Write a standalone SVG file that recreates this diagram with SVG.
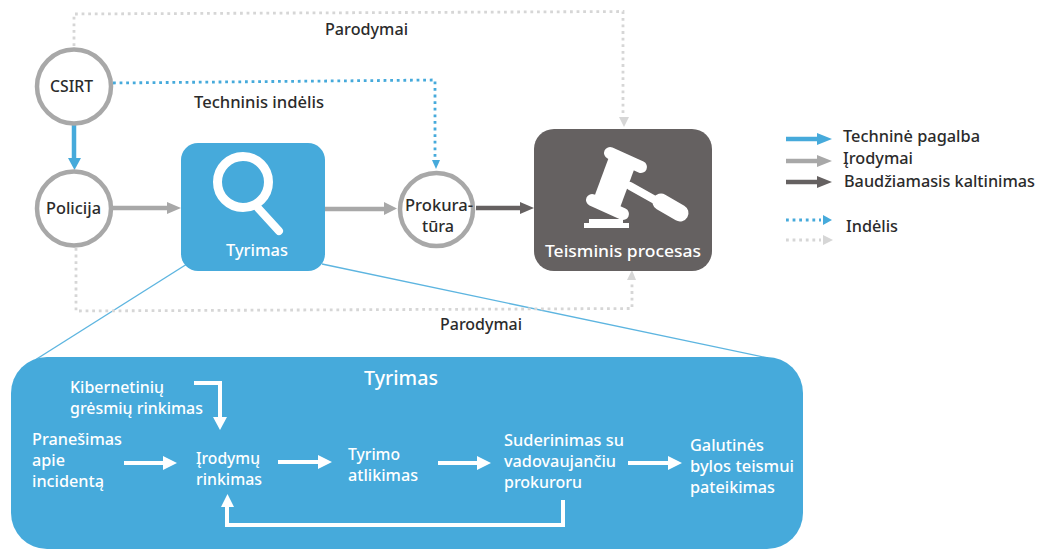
<svg xmlns="http://www.w3.org/2000/svg" width="1045" height="549" viewBox="0 0 1045 549">
<style>
text{font-family:"Noto Sans","Liberation Sans",sans-serif;font-size:16.5px;fill:#2b2b2b;font-weight:500}
.w text,text.w{fill:#fff}
.c{fill:#fff;stroke:#a8a8a8;stroke-width:4.5}
.l{fill:none}
.blue{stroke:#46aadb;stroke-width:4.5}
.gray{stroke:#a8a8a8;stroke-width:4.5}
.dark{stroke:#656161;stroke-width:4.5}
.white{stroke:#fff;stroke-width:4}
.dblue{stroke:#46aadb;stroke-width:2.8;stroke-dasharray:2.8 3.8}
.dgray{stroke:#d6d6d6;stroke-width:2.8;stroke-dasharray:2.8 3.8}
.thin{stroke:#5db5e0;stroke-width:1.4}
.hb{fill:#46aadb}.hg{fill:#a8a8a8}.hd{fill:#656161}.hw{fill:#fff}.hl{fill:#d6d6d6}
</style>
<g id="connectors">
<g class="l">
<path class="thin" d="M187 264L35 360"/>
<path class="thin" d="M322 264L768 358"/>
<path class="dgray" d="M74 46V14L623 11.500V118"/>
<path class="dblue" d="M113 83L435 80V160"/>
<path class="dgray" d="M76 248V311L632 308.500V281"/>
<path class="blue" d="M74 125V158"/>
<path class="gray" d="M113 208H168"/>
<path class="gray" d="M325 209H385"/>
<path class="dark" d="M476 208H521"/>
<path class="blue" d="M786 139H818"/>
<path class="gray" d="M786 161H818"/>
<path class="dark" d="M786 182H818"/>
<path class="dblue" d="M786 220H821"/>
<path class="dgray" d="M786 240H821"/>
</g>
<polygon class="hb" points="68,158 81,158 74.500,170"/>
<polygon class="hg" points="167,202 181,208 167,214"/>
<polygon class="hg" points="384,202 397,208.500 384,215"/>
<polygon class="hd" points="520,202 534,208 520,214"/>
<polygon class="hb" points="432,160 440,160 436,169"/>
<polygon class="hl" points="619,117 629,117 624,127"/>
<polygon class="hl" points="627,280 636,280 632,270"/>
<polygon class="hb" points="817,133 832,139 817,145"/>
<polygon class="hg" points="817,155 832,161 817,167"/>
<polygon class="hd" points="817,176 832,182 817,188"/>
<polygon class="hb" points="823,215 832,220 823,225"/>
<polygon class="hl" points="823,235 833,240 823,245"/>
</g>
<g id="tyrimas-detail">
<rect x="11" y="357" width="792" height="192" rx="36" fill="#46aadb"/>
<text class="w" x="364" y="385" style="font-size:19px" textLength="74" lengthAdjust="spacingAndGlyphs">Tyrimas</text>
</g>
<g id="detail-connectors">
<g class="l white">
<path d="M194 383H220V418"/>
<path d="M124 463H164"/>
<path d="M278 462H319"/>
<path d="M438 463H478"/>
<path d="M628 463H669"/>
<path d="M563 500V525H227V506"/>
</g>
<polygon class="hw" points="213,417 227,417 220,430"/>
<polygon class="hw" points="163,456 177,463 163,470"/>
<polygon class="hw" points="318,455 332,462 318,469"/>
<polygon class="hw" points="477,456 491,463 477,470"/>
<polygon class="hw" points="668,456 682,463 668,470"/>
<polygon class="hw" points="221,507 234,507 227.500,494"/>
</g>
<g id="csirt"><circle class="c" cx="74" cy="86.500" r="37"/><text x="50" y="92" textLength="43" lengthAdjust="spacingAndGlyphs">CSIRT</text></g>
<g id="policija"><circle class="c" cx="74" cy="208.500" r="37"/><text x="46" y="214" textLength="55" lengthAdjust="spacingAndGlyphs">Policija</text></g>
<g id="prokuratura"><circle class="c" cx="436.500" cy="209.500" r="36.500"/><text x="405" y="211" textLength="68" lengthAdjust="spacingAndGlyphs">Prokura-</text><text x="422" y="232" textLength="32" lengthAdjust="spacingAndGlyphs">tūra</text></g>
<g id="tyrimas">
<rect x="181" y="143" width="144" height="128" rx="17" fill="#46aadb"/>
<circle cx="243" cy="182" r="25.500" fill="none" stroke="#fff" stroke-width="9"/>
<path d="M258 208L279 231" fill="none" stroke="#fff" stroke-width="8" stroke-linecap="round"/>
<text class="w" x="226" y="256" textLength="62" lengthAdjust="spacingAndGlyphs">Tyrimas</text>
</g>
<g id="teisminis-procesas">
<rect x="534" y="129" width="178" height="142" rx="20" fill="#656161"/>
<g fill="none" stroke="#fff" stroke-linecap="round">
<path d="M610 153L641 167" stroke-width="12"/>
<path d="M622 162L605 208" stroke-width="28" stroke-linecap="butt"/>
<path d="M592 200L623 214" stroke-width="12"/>
<path d="M630 186L655 200" stroke-width="8"/>
<path d="M661 202L680 213" stroke-width="17"/>
</g>
<rect x="584" y="223" width="45" height="5" fill="#fff"/>
<rect x="589" y="219" width="34" height="5" fill="#fff"/>
<text class="w" x="545" y="257" textLength="156" lengthAdjust="spacingAndGlyphs">Teisminis procesas</text>
</g>
<g id="kibernetiniu" class="w"><text x="70" y="393" textLength="94" lengthAdjust="spacingAndGlyphs">Kibernetinių</text><text x="70" y="414" textLength="133" lengthAdjust="spacingAndGlyphs">grėsmių rinkimas</text></g>
<g id="pranesimas" class="w"><text x="32" y="445" textLength="90" lengthAdjust="spacingAndGlyphs">Pranešimas</text><text x="32" y="466" textLength="33" lengthAdjust="spacingAndGlyphs">apie</text><text x="32" y="487" textLength="72" lengthAdjust="spacingAndGlyphs">incidentą</text></g>
<g id="irodymu" class="w"><text x="196" y="464" textLength="64" lengthAdjust="spacingAndGlyphs">Įrodymų</text><text x="196" y="485" textLength="66" lengthAdjust="spacingAndGlyphs">rinkimas</text></g>
<g id="tyrimo" class="w"><text x="348" y="460" textLength="52" lengthAdjust="spacingAndGlyphs">Tyrimo</text><text x="348" y="481" textLength="70" lengthAdjust="spacingAndGlyphs">atlikimas</text></g>
<g id="suderinimas" class="w"><text x="504" y="446" textLength="120" lengthAdjust="spacingAndGlyphs">Suderinimas su</text><text x="504" y="467" textLength="112" lengthAdjust="spacingAndGlyphs">vadovaujančiu</text><text x="504" y="488" textLength="78" lengthAdjust="spacingAndGlyphs">prokuroru</text></g>
<g id="galutines" class="w"><text x="690" y="451" textLength="74" lengthAdjust="spacingAndGlyphs">Galutinės</text><text x="690" y="472" textLength="104" lengthAdjust="spacingAndGlyphs">bylos teismui</text><text x="690" y="493" textLength="85" lengthAdjust="spacingAndGlyphs">pateikimas</text></g>
<g id="labels">
<text x="325" y="35" textLength="83" lengthAdjust="spacingAndGlyphs">Parodymai</text>
<text x="194" y="108" textLength="130" lengthAdjust="spacingAndGlyphs">Techninis indėlis</text>
<text x="440" y="330" textLength="82" lengthAdjust="spacingAndGlyphs">Parodymai</text>
</g>
<g id="legend">
<text x="843" y="142" textLength="137" lengthAdjust="spacingAndGlyphs">Techninė pagalba</text>
<text x="843" y="164" textLength="70" lengthAdjust="spacingAndGlyphs">Įrodymai</text>
<text x="844" y="187" textLength="191" lengthAdjust="spacingAndGlyphs">Baudžiamasis kaltinimas</text>
<text x="846" y="232" textLength="52" lengthAdjust="spacingAndGlyphs">Indėlis</text>
</g>
</svg>
